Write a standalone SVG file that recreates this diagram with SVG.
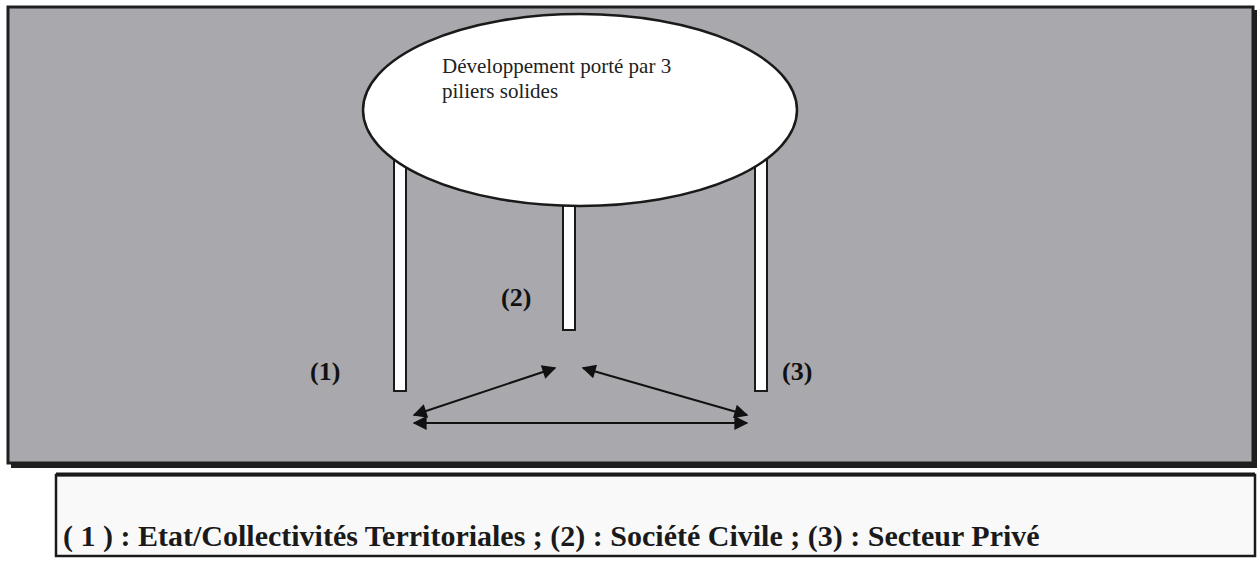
<svg xmlns="http://www.w3.org/2000/svg" width="1260" height="561" viewBox="0 0 1260 561">
<defs>
<style>
.frame{fill:#a9a9ad;stroke:#1e2020;stroke-width:3}
.shadow{fill:#1e2020}
.pillar{fill:#ffffff;stroke:#1a1a1a;stroke-width:2}
.lbl{font-family:'Times New Roman','Liberation Serif',serif;font-weight:bold;font-size:26px;fill:#111}
.top{font-family:'Times New Roman','Liberation Serif',serif;font-size:21px;fill:#222}
.legend{font-family:'Times New Roman','Liberation Serif',serif;font-weight:bold;font-size:30px;fill:#1a1a1a}
.conn{stroke:#111;stroke-width:2;fill:none;marker-start:url(#ah);marker-end:url(#ah)}
</style>
<marker id="ah" viewBox="0 0 10 10" refX="9" refY="5" markerWidth="9" markerHeight="7" orient="auto-start-reverse" markerUnits="strokeWidth">
<path d="M0,0 L10,5 L0,10 z" fill="#111"/>
</marker>
</defs>
<rect width="1260" height="561" fill="#ffffff"/>
<g id="frame">
<rect class="shadow" x="11" y="10" width="1246" height="458"/>
<rect class="frame" x="8" y="7" width="1245" height="456"/>
</g>
<g id="pillar1"><rect class="pillar" x="394" y="150" width="12" height="241"/></g>
<g id="pillar3"><rect class="pillar" x="755" y="150" width="12" height="241"/></g>
<g id="pillar2"><rect class="pillar" x="563" y="200" width="12" height="130"/></g>
<g id="plateau">
<ellipse cx="580" cy="110" rx="217" ry="96" fill="#ffffff" stroke="#1a1a1a" stroke-width="2.5"/>
<text class="top" x="442" y="73">Développement porté par 3</text>
<text class="top" x="442" y="98">piliers solides</text>
</g>
<g id="label1"><text class="lbl" x="310" y="380">(1)</text></g>
<g id="label2"><text class="lbl" x="501" y="306">(2)</text></g>
<g id="label3"><text class="lbl" x="782" y="380">(3)</text></g>
<g id="connectors">
<line class="conn" x1="414" y1="415" x2="555" y2="368"/>
<line class="conn" x1="583" y1="368" x2="747" y2="415"/>
<line class="conn" x1="414" y1="423" x2="747" y2="423"/>
</g>
<g id="legend">
<rect x="56" y="475" width="1199" height="81" fill="#f9f9f9" stroke="#1a1a1a" stroke-width="2.5"/>
<line x1="56" y1="474.5" x2="1255" y2="474.5" stroke="#1a1a1a" stroke-width="4"/>
<text class="legend" x="63" y="546">( 1 ) : Etat/Collectivités Territoriales ; (2) : Société Civile ; (3) : Secteur Privé</text>
</g>
</svg>
